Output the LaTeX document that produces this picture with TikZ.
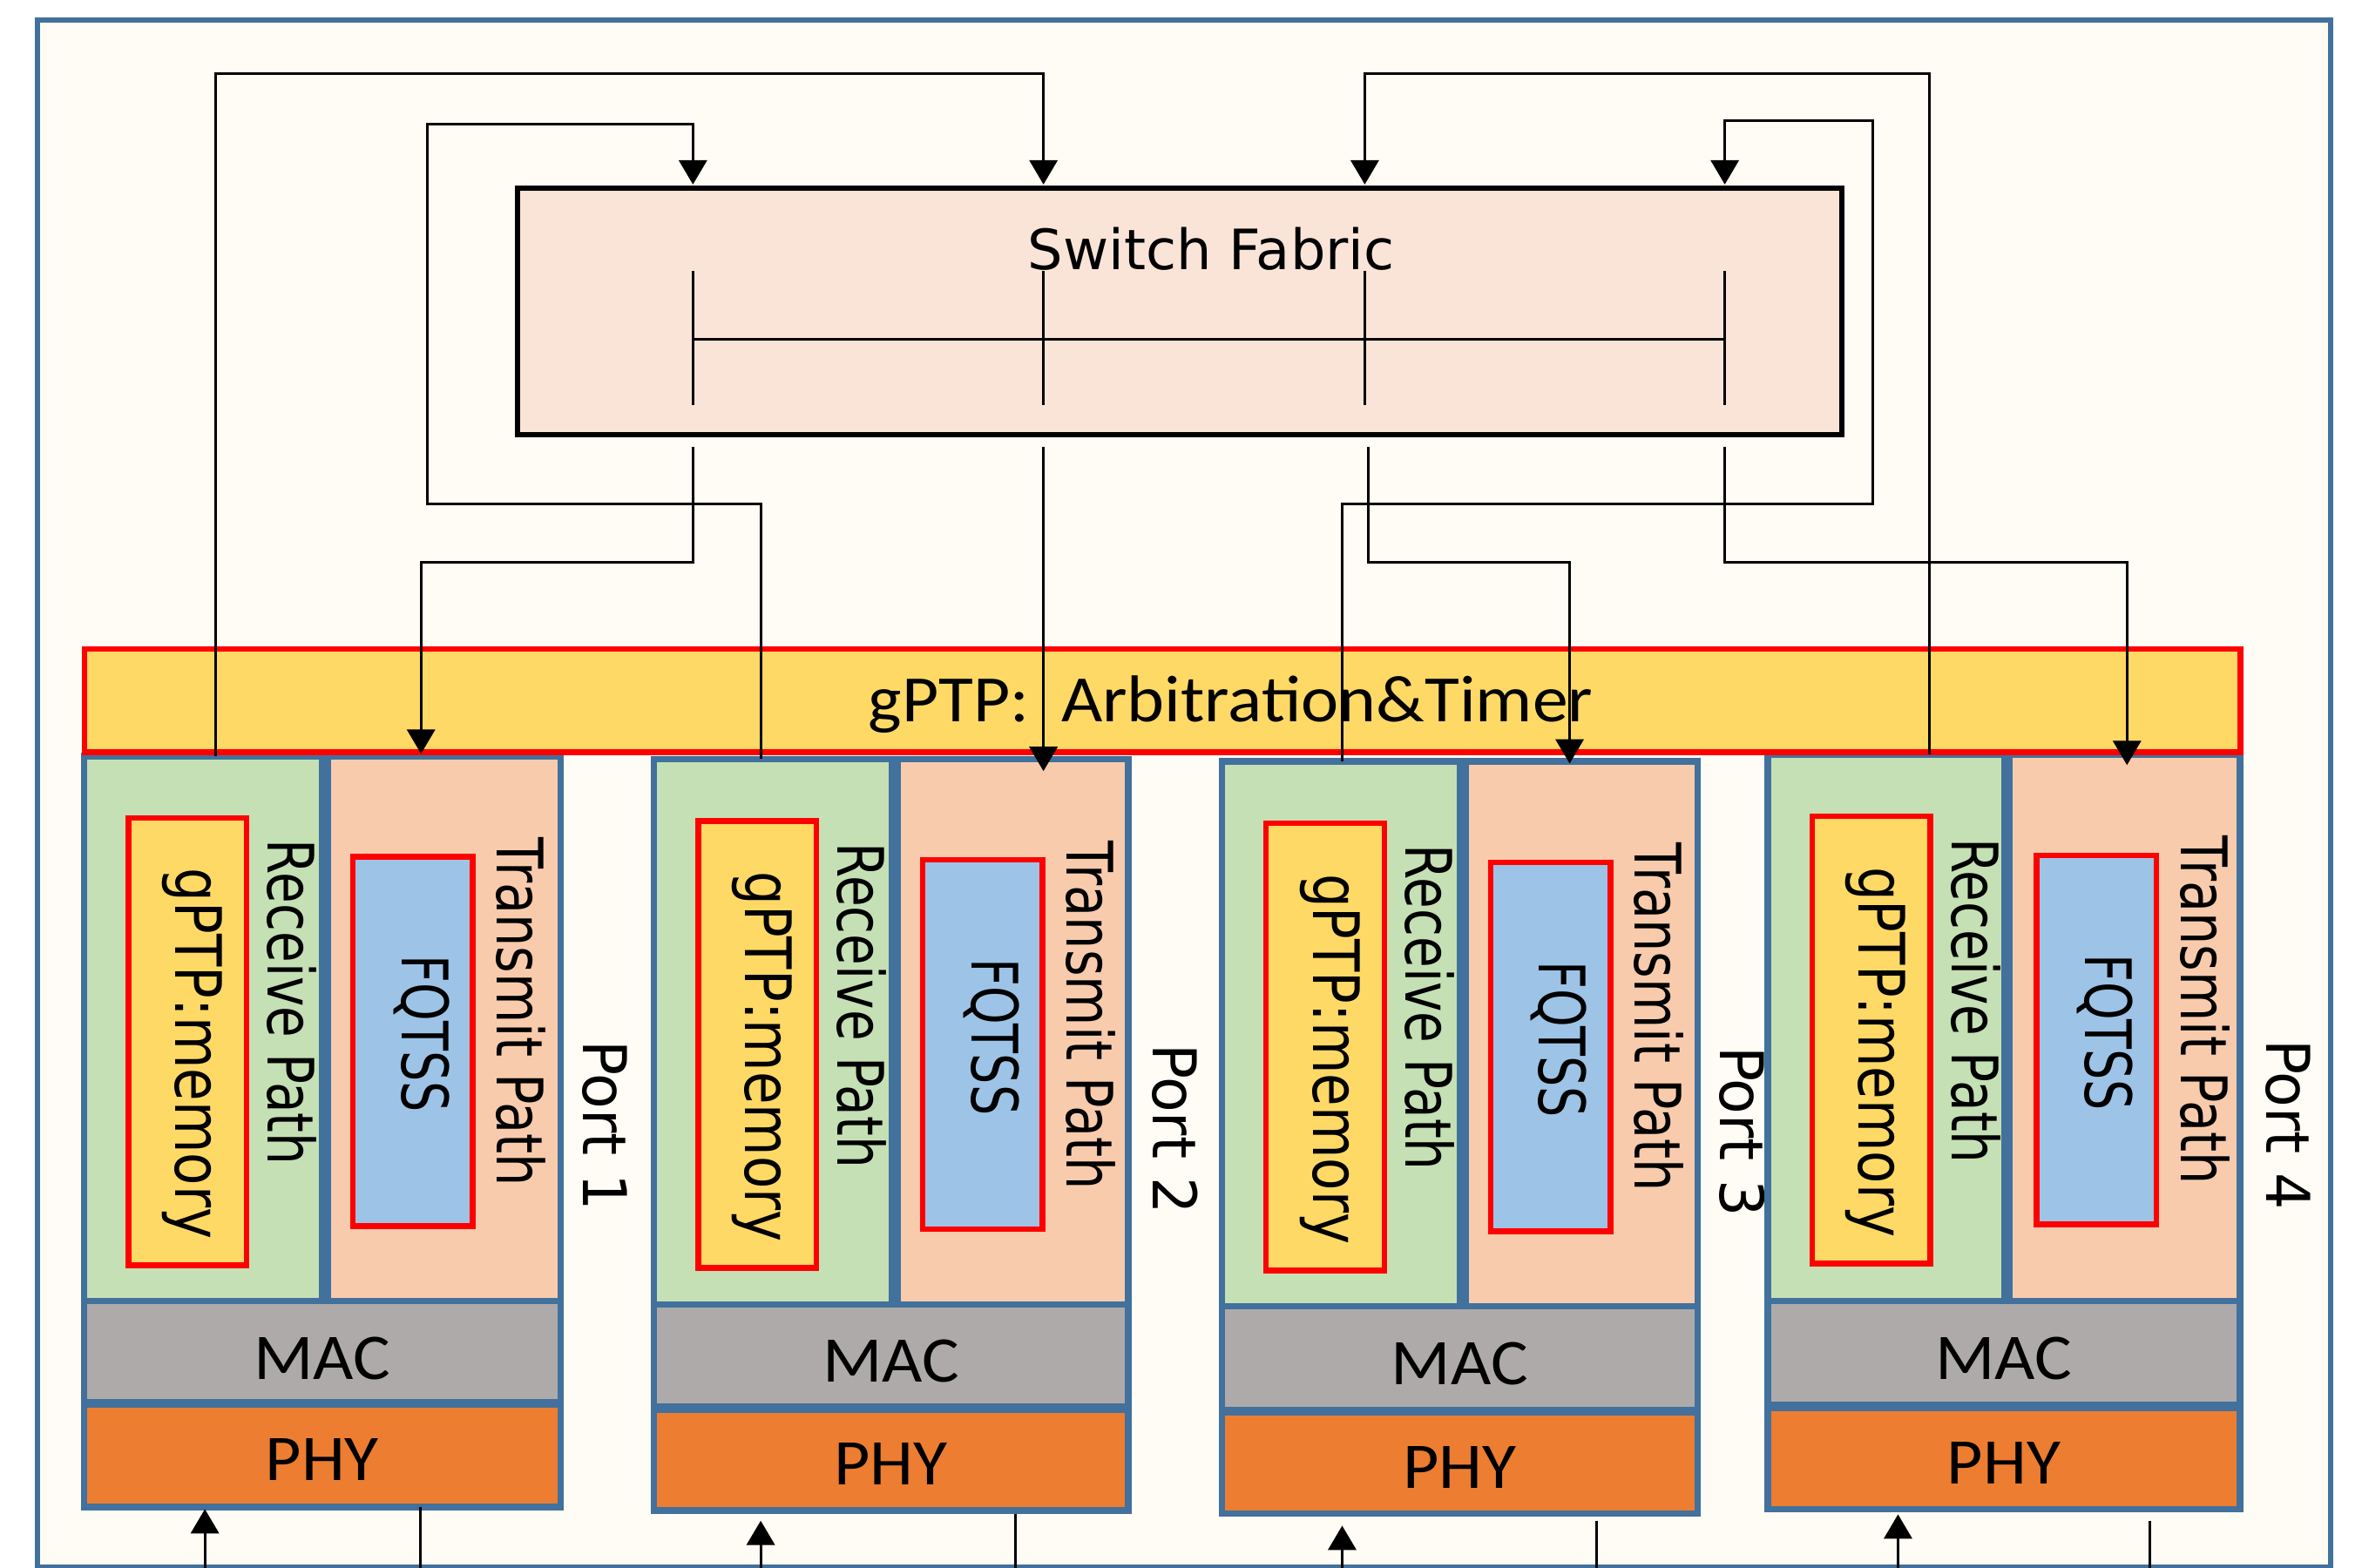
\documentclass[tikz,border=0pt]{standalone}
\usepackage{fontspec}
\usepackage{graphicx}
\usetikzlibrary{arrows.meta,fit}
\newfontfamily\dvsans{DejaVu Sans}
\newfontfamily\carl{Carlito}
\definecolor{edgeblue}{HTML}{41719C}
\definecolor{paper}{HTML}{FFFCF5}
\definecolor{fabricfill}{HTML}{FAE4D8}
\definecolor{gold}{HTML}{FFD966}
\definecolor{rxgreen}{HTML}{C5E0B4}
\definecolor{txpeach}{HTML}{F8CBAD}
\definecolor{macgray}{HTML}{AEAAAA}
\definecolor{phyorange}{HTML}{ED7D31}
\definecolor{fqblue}{HTML}{9DC3E6}
\definecolor{alertred}{HTML}{FF0000}
\tikzset{
  box/.style={rectangle, inner sep=0pt, outer sep=0pt},
  portpart/.style={box, draw=edgeblue, line width=1.2pt},
  redbox/.style={box, draw=alertred, line width=1.08pt},
  conn/.style={draw=black, line width=0.5pt},
  arr/.style={conn, -{Triangle[width=5.3pt,length=4.6pt]}},
  vlabel/.style={inner sep=0pt, anchor=base, rotate=-90, font=\dvsans\fontsize{12.1}{14}\selectfont},
  hlabel/.style={inner sep=0pt, anchor=base},
  layerfont/.style={font=\carl\fontsize{12.3}{14}\selectfont},
}
\begin{document}
\begin{tikzpicture}[x=0.01cm,y=-0.01cm]
\useasboundingbox (0,0) rectangle (1568,1041.1);
\clip (0,0) rectangle (1568,1041.1);
\fill[white] (0,0) rectangle (1568,1041.1);

% outer frame
\node[box, fit={(24.8,13.3) (1547.2,1040.4)}, draw=edgeblue, fill=paper, line width=1pt] (frame) {};

% switch fabric with its internal bus
\node[box, fit={(343.4,125) (1222.5,288.7)}, draw=black, fill=fabricfill, line width=0.95pt] (fabric) {};
\node[hlabel, font=\dvsans\fontsize{10.5}{12}\selectfont] (fabrictext) at (804,179) {Switch Fabric};
\foreach \i/\x in {1/460,2/692.7,3/906,4/1145}{
  \coordinate (fin\i) at (\x,122.5);
  \coordinate (tt\i) at (\x,180);
  \coordinate (tb\i) at (\x,268.8);
  \coordinate (bus\i) at (\x,225.2);
  \draw[conn] (tt\i) -- (tb\i);
}
\draw[conn] (bus1) -- (bus4);
\foreach \i/\x in {1/460,2/692.7,3/908.3,4/1145}{
  \coordinate (fout\i) at (\x,296.7);
}

% ports
\foreach \n/\L/\T/\Drx/\Dtx/\R/\M/\P/\B in {
  1/55.7/502/213.6/217.8/372/864/931.8/1000.6,
  2/434/504/592/596/749/866/935/1003,
  3/811/505.6/969/973/1127/867.5/937/1005,
  4/1173.5/501/1330.5/1334/1487/864/934/1002}{
  \node[portpart, fill=rxgreen, fit={(\L,\T) (\Drx,\M)}] (rx\n) {};
  \node[portpart, fill=txpeach, fit={(\Dtx,\T) (\R,\M)}] (tx\n) {};
  \node[portpart, fill=macgray, fit={(\L,\M) ({\R},{\P-1})}] (mac\n) {};
  \node[portpart, fill=phyorange, fit={(\L,{\P+1}) (\R,\B)}] (phy\n) {};
  \node[redbox, fill=gold, fit={({\L+29.5},{\T+41}) ({\L+108},{\T+338})}] (mem\n) {};
  \node[redbox, fill=fqblue, fit={({\L+178.5},{\T+67}) ({\L+258},{\T+312})}] (fq\n) {};
  \node[vlabel] (memtext\n) at ({\L+60.7},{\T+197.6}) {\scalebox{0.83}[1]{gPTP:memory}};
  \node[vlabel] (rxtext\n) at ({\L+122.3},{\T+163.5}) {\scalebox{0.79}[1]{Receive Path}};
  \node[vlabel] (fqtext\n) at ({\L+211},{\T+184.5}) {\scalebox{0.755}[1]{FQTSS}};
  \node[vlabel] (txtext\n) at ({\L+274.3},{\T+170}) {\scalebox{0.8}[1]{Transmit Path}};
  \node[vlabel, font=\dvsans\fontsize{11.4}{13}\selectfont] (porttext\n) at ({\L+331.3},{\T+245.6}) {\scalebox{0.96}[1]{Port \n}};
  \node[hlabel, layerfont] (mactext\n) at ({(\L+\R)/2},{\M+51.7}) {\scalebox{1.07}[1]{MAC}};
  \node[hlabel, layerfont] (phytext\n) at ({(\L+\R)/2},{\P+51}) {\scalebox{1.07}[1]{PHY}};
}

% gPTP arbitration bar
\node[redbox, fill=gold, fit={(56,431) (1487.4,499.3)}] (gptp) {};
\node[hlabel, font=\carl\fontsize{12.5}{14}\selectfont] (gptptext) at (817,479) {\scalebox{1.075}[1]{gPTP:\ \ Arbitration\&Timer}};

% connector end points
\coordinate (rxtap1) at (143,502);
\coordinate (rxtap2) at (505,504);
\coordinate (rxtap3) at (891,505.6);
\coordinate (rxtap4) at (1281,501);
\coordinate (txtip1) at (279.5,500.5);
\coordinate (txtip2) at (692.7,512);
\coordinate (txtip3) at (1042,507);
\coordinate (txtip4) at (1412,508);
\coordinate (railtop) at (0,49);
\coordinate (railL) at (283.5,82.4);
\coordinate (railR) at (1243,80.3);
\coordinate (midrail) at (0,334.5);
\coordinate (lowrail) at (0,373.3);

% receive paths into the fabric
\draw[arr] (rxtap1) -- (rxtap1 |- railtop) -- (fin2 |- railtop) -- (fin2);
\draw[arr] (rxtap2) -- (rxtap2 |- midrail) -- (railL |- midrail) -- (railL) -- (fin1 |- railL) -- (fin1);
\draw[arr] (rxtap3) -- (rxtap3 |- midrail) -- (railR |- midrail) -- (railR) -- (fin4 |- railR) -- (fin4);
\draw[arr] (rxtap4) -- (rxtap4 |- railtop) -- (fin3 |- railtop) -- (fin3);

% fabric out to the transmit paths
\draw[arr] (fout1) -- (fout1 |- lowrail) -- (txtip1 |- lowrail) -- (txtip1);
\draw[arr] (fout2) -- (txtip2);
\draw[arr] (fout3) -- (fout3 |- lowrail) -- (txtip3 |- lowrail) -- (txtip3);
\draw[arr] (fout4) -- (fout4 |- lowrail) -- (txtip4 |- lowrail) -- (txtip4);

% PHY links
\foreach \i/\xi/\yi/\xo/\yo in {1/136/1002/279/1000.6, 2/505/1009.7/674/1005, 3/891/1013/1060/1009.7, 4/1260/1005.5/1427/1009.7}{
  \coordinate (phyin\i) at (\xi,\yi);
  \coordinate (edgein\i) at (\xi,1045);
  \coordinate (phyout\i) at (\xo,\yo);
  \coordinate (edgeout\i) at (\xo,1045);
  \draw[arr] (edgein\i) -- (phyin\i);
  \draw[conn] (phyout\i) -- (edgeout\i);
}
\end{tikzpicture}
\end{document}
